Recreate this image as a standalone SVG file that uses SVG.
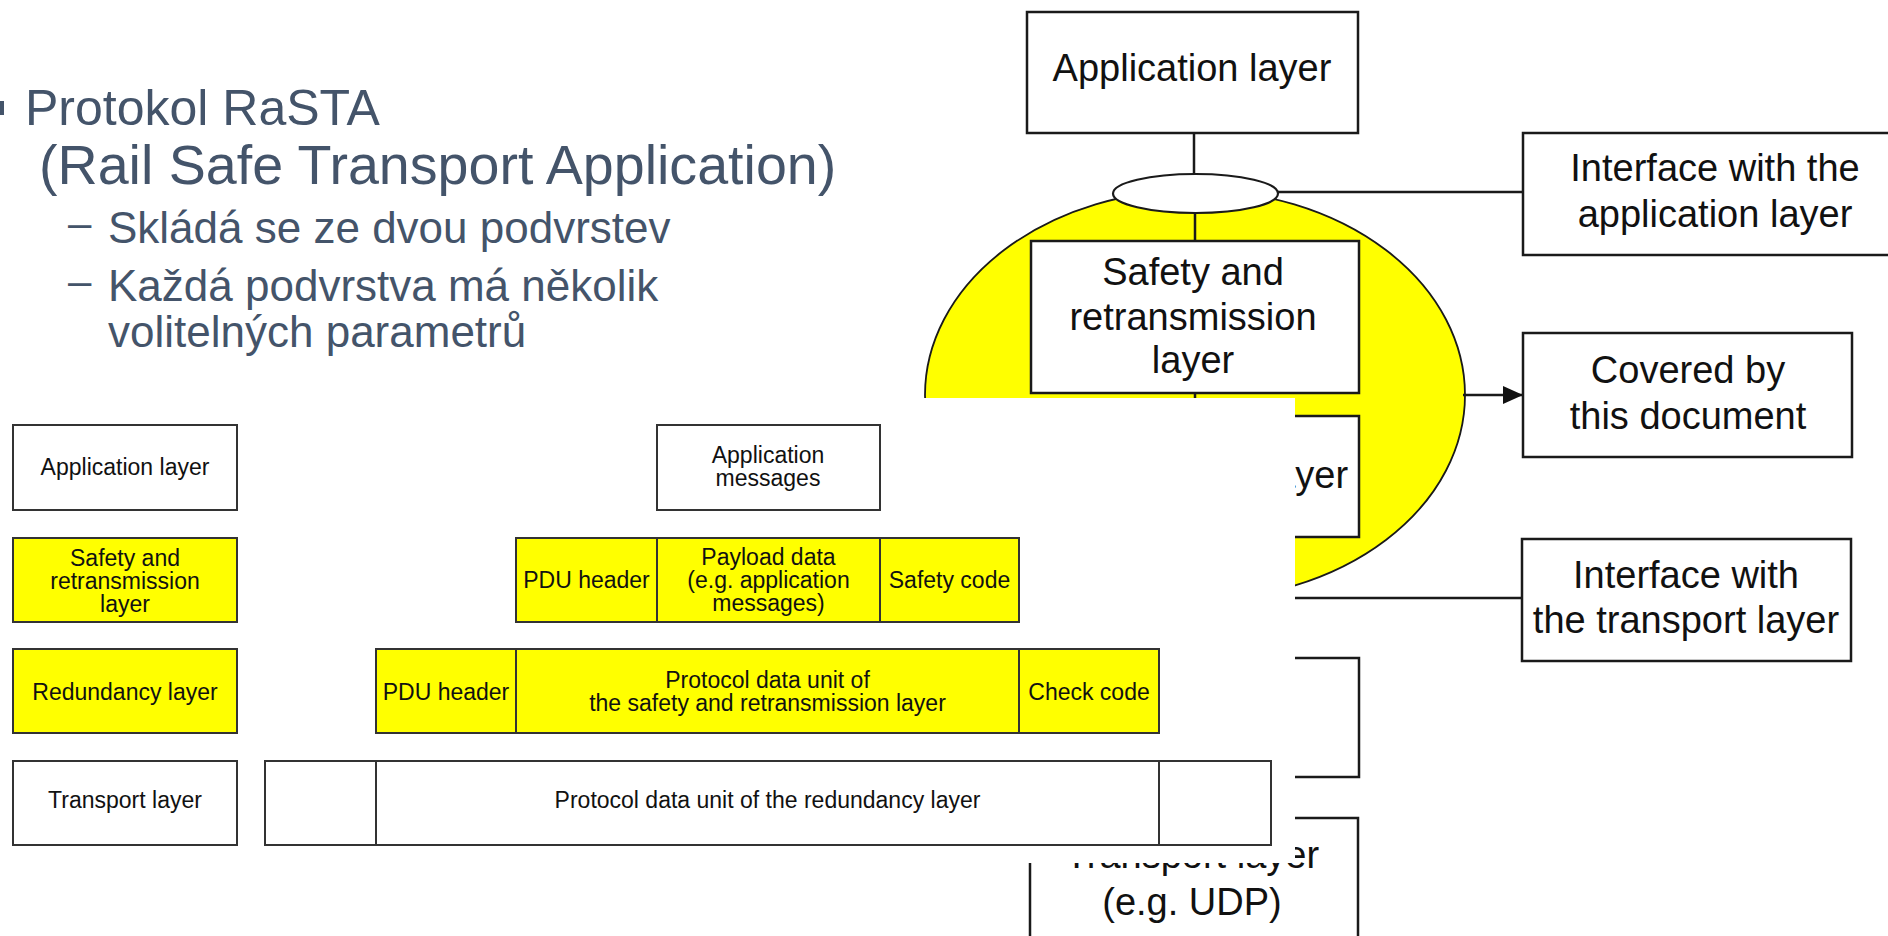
<svg xmlns="http://www.w3.org/2000/svg" width="1888" height="936" viewBox="0 0 1888 936">
<defs>
<style>
.title{font-family:"Liberation Sans",Arial,sans-serif;fill:#44546A}
.rbox{fill:#ffffff;stroke:#1a1a1a;stroke-width:2.5}
.rt{font-family:"Liberation Sans",Arial,sans-serif;font-size:38px;fill:#111111;text-anchor:middle}
.conn{stroke:#1a1a1a;stroke-width:2.5;fill:none}
.lbox{fill:#ffffff;stroke:#333333;stroke-width:2}
.ybox{fill:#ffff00;stroke:#333333;stroke-width:2}
.lt{font-family:"Liberation Sans",Arial,sans-serif;font-size:23px;fill:#111111;text-anchor:middle}
</style>
<marker id="arr" markerUnits="userSpaceOnUse" markerWidth="21" markerHeight="19" refX="20" refY="9" orient="auto">
<path d="M0,0 L20,9 L0,18 Z" fill="#111111"/>
</marker>
</defs>
<rect width="1888" height="936" fill="#ffffff"/>

<g id="right-figure">
<g id="scope-ellipse"><ellipse cx="1195" cy="395" rx="270" ry="205" fill="#ffff00" stroke="#1a1a1a" stroke-width="1.8"/></g>
<g id="connectors">
<line class="conn" x1="1194" y1="133" x2="1194" y2="174"/>
<line class="conn" x1="1195" y1="213" x2="1195" y2="241"/>
<line class="conn" x1="1195" y1="393" x2="1195" y2="416"/>
<line class="conn" x1="1195" y1="537" x2="1195" y2="658"/>
<line class="conn" x1="1278" y1="192" x2="1523" y2="192"/>
<line class="conn" x1="1463" y1="395" x2="1523" y2="395" marker-end="url(#arr)"/>
<line class="conn" x1="1278" y1="598" x2="1522" y2="598"/>
</g>
<g id="iface-app-ellipse"><ellipse cx="1195.5" cy="193.5" rx="82.5" ry="19.5" fill="#ffffff" stroke="#1a1a1a" stroke-width="2.2"/></g>
<g id="r-app"><rect class="rbox" x="1027" y="12" width="331" height="121"/><text class="rt" x="1192" y="81">Application layer</text></g>
<g id="r-safety"><rect class="rbox" x="1031" y="241" width="328" height="152"/>
<text class="rt" x="1193" y="285">Safety and</text><text class="rt" x="1193" y="330">retransmission</text><text class="rt" x="1193" y="373">layer</text></g>
<g id="r-redundancy"><rect class="rbox" x="1031" y="416" width="328" height="121"/><text class="rt" x="1195" y="488">Redundancy layer</text></g>
<g id="r-hidden"><rect class="rbox" x="1031" y="658" width="328" height="119"/></g>
<g id="r-transport"><rect class="rbox" x="1030" y="818" width="328" height="150"/>
<text class="rt" x="1192" y="868">Transport layer</text><text class="rt" x="1192" y="915">(e.g. UDP)</text></g>
<g id="r-iface-app"><rect class="rbox" x="1523" y="133" width="420" height="122"/>
<text class="rt" x="1715" y="181">Interface with the</text><text class="rt" x="1715" y="227">application layer</text></g>
<g id="r-covered"><rect class="rbox" x="1523" y="333" width="329" height="124"/>
<text class="rt" x="1688" y="383">Covered by</text><text class="rt" x="1688" y="429">this document</text></g>
<g id="r-iface-transport"><rect class="rbox" x="1522" y="539" width="329" height="122"/>
<text class="rt" x="1686" y="588">Interface with</text><text class="rt" x="1686" y="633">the transport layer</text></g>
</g>

<g id="left-figure">
<rect x="0" y="398" width="1295" height="465" fill="#ffffff"/>
<g id="l-app"><rect class="lbox" x="13" y="425" width="224" height="85"/><text class="lt" x="125" y="475">Application layer</text></g>
<g id="l-app-msg"><rect class="lbox" x="657" y="425" width="223" height="85"/><text class="lt" x="768" y="463">Application</text><text class="lt" x="768" y="486">messages</text></g>
<g id="l-safety"><rect class="ybox" x="13" y="538" width="224" height="84"/>
<text class="lt" x="125" y="566">Safety and</text><text class="lt" x="125" y="589">retransmission</text><text class="lt" x="125" y="612">layer</text></g>
<g id="l-s-pdu"><rect class="ybox" x="516" y="538" width="141" height="84"/><text class="lt" x="586.5" y="588">PDU header</text></g>
<g id="l-s-payload"><rect class="ybox" x="657" y="538" width="223" height="84"/>
<text class="lt" x="768.5" y="565">Payload data</text><text class="lt" x="768.5" y="588">(e.g. application</text><text class="lt" x="768.5" y="611">messages)</text></g>
<g id="l-s-code"><rect class="ybox" x="880" y="538" width="139" height="84"/><text class="lt" x="949.5" y="588">Safety code</text></g>
<g id="l-red"><rect class="ybox" x="13" y="649" width="224" height="84"/><text class="lt" x="125" y="700">Redundancy layer</text></g>
<g id="l-r-pdu"><rect class="ybox" x="376" y="649" width="140" height="84"/><text class="lt" x="446" y="700">PDU header</text></g>
<g id="l-r-data"><rect class="ybox" x="516" y="649" width="503" height="84"/>
<text class="lt" x="767.5" y="688">Protocol data unit of</text><text class="lt" x="767.5" y="711">the safety and retransmission layer</text></g>
<g id="l-r-check"><rect class="ybox" x="1019" y="649" width="140" height="84"/><text class="lt" x="1089" y="700">Check code</text></g>
<g id="l-transport"><rect class="lbox" x="13" y="761" width="224" height="84"/><text class="lt" x="125" y="808">Transport layer</text></g>
<g id="l-t-head"><rect class="lbox" x="265" y="761" width="111" height="84"/></g>
<g id="l-t-data"><rect class="lbox" x="376" y="761" width="783" height="84"/><text class="lt" x="767.5" y="808">Protocol data unit of the redundancy layer</text></g>
<g id="l-t-tail"><rect class="lbox" x="1159" y="761" width="112" height="84"/></g>
</g>

<g id="title-text">
<rect x="-10" y="101" width="14" height="14" fill="#44546A"/>
<text class="title" x="25" y="125" font-size="50">Protokol RaSTA</text>
<text class="title" x="39" y="184" font-size="55.6">(Rail Safe Transport Application)</text>
<text class="title" x="68" y="237" font-size="42">–</text>
<text class="title" x="108" y="243" font-size="44">Skládá se ze dvou podvrstev</text>
<text class="title" x="68" y="295" font-size="42">–</text>
<text class="title" x="108" y="301" font-size="44">Každá podvrstva má několik</text>
<text class="title" x="108" y="347" font-size="44">volitelných parametrů</text>
</g>
</svg>
